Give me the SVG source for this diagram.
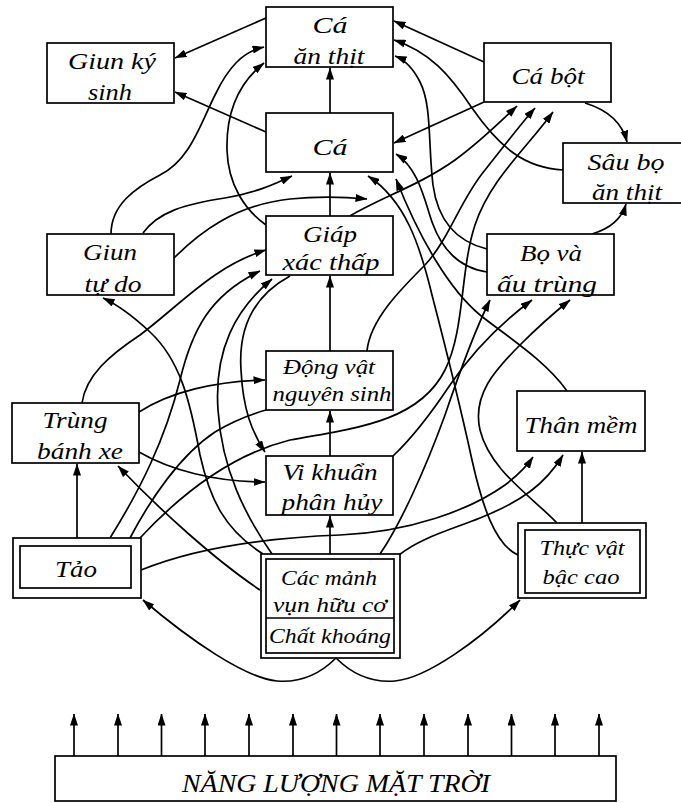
<svg xmlns="http://www.w3.org/2000/svg" width="681" height="803" viewBox="0 0 681 803">
  <defs>
    <marker id="ah" viewBox="0 0 12 8" refX="11.5" refY="4" markerWidth="12" markerHeight="8" markerUnits="userSpaceOnUse" orient="auto">
      <path d="M0,0 L12,4 L0,8 z" fill="#000"/>
    </marker>
    <style>
      .box { fill: #fff; stroke: #000; stroke-width: 1.7; }
      .ln { fill: none; stroke: #000; stroke-width: 1.7; }
      .ar { fill: none; stroke: #000; stroke-width: 1.7; marker-end: url(#ah); }
      text { font-family: "Liberation Serif", "Times New Roman", serif; font-style: italic; font-size: 24px; fill: #000; text-anchor: middle; }
      .sm { font-size: 22px; }
      .big { font-size: 26px; }
    </style>
  </defs>

  <rect width="681" height="803" fill="#fff"/>

  <!-- food web links -->
  <g id="connectors">
    <!-- straight vertical links -->
    <path class="ar" d="M330,113 V68"/>
    <path class="ar" d="M330,216 V173"/>
    <path class="ar" d="M330,351 V276"/>
    <path class="ar" d="M330,456 V411"/>
    <path class="ar" d="M330,554 V516"/>
    <path class="ar" d="M77,538 V464"/>
    <path class="ar" d="M582,523 V452"/>

    <!-- straight diagonal links -->
    <path class="ar" d="M266,18 L175,58"/>
    <path class="ar" d="M266,132 L175,92"/>
    <path class="ar" d="M484,62 L394,21"/>
    <path class="ar" d="M484,102 L394,143"/>

    <!-- fry, predatory insects, beetles and larvae -->
    <path class="ar" d="M585,103 C608,110 622,122 627,142"/>
    <path class="ar" d="M563,170 C525,168 500,148 472,108 C450,75 430,52 394,40"/>
    <path class="ar" d="M592,234 C612,228 622,218 626,204"/>
    <path class="ar" d="M487,249 C458,242 438,222 433,185 C428,145 432,105 420,82 C413,68 405,60 395,56"/>
    <path class="ar" d="M487,272 C460,268 442,250 432,222 C424,198 418,168 396,154"/>

    <!-- free-living worms -->
    <path class="ar" d="M111,234 C111,205 135,188 160,175 C190,160 200,125 215,95 C228,68 242,52 264,47"/>
    <path class="ar" d="M143,233 C158,212 185,204 225,198 C255,193 275,184 292,176"/>
    <path class="ar" d="M174,258 C200,232 235,205 290,199 C320,196 345,197 367,199"/>

    <!-- lower crustaceans -->
    <path class="ar" d="M266,225 C245,210 228,185 227,150 C226,110 240,82 264,63"/>
    <path class="ar" d="M350,216 C380,198 420,185 455,160 C480,142 500,122 517,106"/>
    <path class="ar" d="M290,276 C255,295 238,325 241,370 C243,410 252,432 265,452"/>

    <!-- protozoa -->
    <path class="ar" d="M367,351 C370,320 400,290 425,265 C450,238 460,200 485,170 C505,145 520,125 535,108"/>

    <!-- algae -->
    <path class="ar" d="M140,538 C180,495 230,455 290,440 C360,428 420,420 445,370 C465,330 460,270 475,225 C490,180 525,150 553,112"/>
    <path class="ln" d="M130,538 C150,500 180,455 215,432 C235,420 252,414 266,410"/>
    <path class="ar" d="M110,538 C140,490 165,440 180,380 C192,330 210,295 260,271"/>
    <path class="ar" d="M141,570 C190,550 260,538 340,535 C410,532 470,510 505,485 C518,475 527,466 533,457"/>

    <!-- rotifers -->
    <path class="ar" d="M82,403 C86,375 110,355 140,335 C180,305 215,265 266,250"/>
    <path class="ar" d="M139,412 C170,392 215,381 265,380"/>
    <path class="ar" d="M139,452 C170,470 215,482 265,482"/>

    <!-- organic detritus -->
    <path class="ar" d="M272,554 C245,515 222,470 218,410 C214,350 235,310 272,279"/>
    <path class="ar" d="M263,554 C225,530 210,500 200,455 C190,400 180,360 150,332 C135,318 118,305 103,298"/>
    <path class="ar" d="M260,590 C215,560 160,510 118,466"/>
    <path class="ar" d="M399,555 C420,538 450,530 480,518 C520,502 545,485 563,455"/>
    <path class="ar" d="M380,554 C400,525 425,470 445,415 C462,365 475,330 490,300"/>

    <!-- decomposer bacteria -->
    <path class="ar" d="M393,456 C410,440 430,415 450,385 C475,348 505,320 532,300"/>

    <!-- higher plants and molluscs -->
    <path class="ar" d="M557,523 C530,495 490,470 480,430 C472,395 495,370 520,345 C540,325 555,312 570,300"/>
    <path class="ar" d="M518,555 C495,545 482,505 472,460 C460,405 445,345 432,295 C420,245 405,200 368,176"/>
    <path class="ar" d="M567,391 C545,360 505,335 480,315 C450,290 420,240 396,179"/>

    <!-- minerals to producers -->
    <path class="ar" d="M336,658 C322,672 302,683 277,681 C245,678 190,640 143,600"/>
    <path class="ar" d="M336,658 C350,672 370,683 395,681 C427,678 480,640 520,600"/>

    <!-- solar energy rays -->
    <path class="ar" d="M74,756 V714"/>
    <path class="ar" d="M118,756 V714"/>
    <path class="ar" d="M161.5,756 V714"/>
    <path class="ar" d="M205,756 V714"/>
    <path class="ar" d="M249,756 V714"/>
    <path class="ar" d="M293,756 V714"/>
    <path class="ar" d="M336.5,756 V714"/>
    <path class="ar" d="M380,756 V714"/>
    <path class="ar" d="M424,756 V714"/>
    <path class="ar" d="M468,756 V714"/>
    <path class="ar" d="M511.5,756 V714"/>
    <path class="ar" d="M555,756 V714"/>
    <path class="ar" d="M599,756 V714"/>
  </g>

  <g id="ca-an-thit">
    <rect class="box" x="266" y="7" width="127" height="60"/>
    <text x="330" y="33" textLength="35" lengthAdjust="spacingAndGlyphs">Cá</text>
    <text x="329" y="64" textLength="71" lengthAdjust="spacingAndGlyphs">ăn thịt</text>
  </g>

  <g id="giun-ky-sinh">
    <rect class="box" x="47" y="43" width="127" height="60"/>
    <text x="112" y="69" textLength="88" lengthAdjust="spacingAndGlyphs">Giun ký</text>
    <text x="110" y="100" textLength="44" lengthAdjust="spacingAndGlyphs">sinh</text>
  </g>

  <g id="ca-bot">
    <rect class="box" x="484" y="43" width="127" height="59"/>
    <text x="548" y="84" textLength="73" lengthAdjust="spacingAndGlyphs">Cá bột</text>
  </g>

  <g id="ca">
    <rect class="box" x="266" y="113" width="127" height="59"/>
    <text x="330" y="155" textLength="35" lengthAdjust="spacingAndGlyphs">Cá</text>
  </g>

  <g id="sau-bo-an-thit">
    <rect class="box" x="563" y="143" width="127" height="60"/>
    <text x="626" y="170" textLength="77" lengthAdjust="spacingAndGlyphs">Sâu bọ</text>
    <text x="627" y="200" textLength="70" lengthAdjust="spacingAndGlyphs">ăn thịt</text>
  </g>

  <g id="giun-tu-do">
    <rect class="box" x="47" y="234" width="127" height="61"/>
    <text x="110" y="260" textLength="54" lengthAdjust="spacingAndGlyphs">Giun</text>
    <text x="113" y="292" textLength="57" lengthAdjust="spacingAndGlyphs">tự do</text>
  </g>

  <g id="giap-xac-thap">
    <rect class="box" x="266" y="216" width="127" height="59"/>
    <text x="330" y="242" textLength="54" lengthAdjust="spacingAndGlyphs">Giáp</text>
    <text x="331" y="270" textLength="97" lengthAdjust="spacingAndGlyphs">xác thấp</text>
  </g>

  <g id="bo-va-au-trung">
    <rect class="box" x="487" y="234" width="127" height="61"/>
    <text x="551" y="261" textLength="62" lengthAdjust="spacingAndGlyphs">Bọ và</text>
    <text x="547" y="292" textLength="100" lengthAdjust="spacingAndGlyphs">ấu trùng</text>
  </g>

  <g id="dong-vat-nguyen-sinh">
    <rect class="box" x="266" y="351" width="127" height="59"/>
    <text class="sm" x="329" y="374" textLength="92" lengthAdjust="spacingAndGlyphs">Động vật</text>
    <text class="sm" x="332" y="401" textLength="119" lengthAdjust="spacingAndGlyphs">nguyên sinh</text>
  </g>

  <g id="trung-banh-xe">
    <rect class="box" x="12" y="403" width="127" height="60"/>
    <text x="75" y="428" textLength="65" lengthAdjust="spacingAndGlyphs">Trùng</text>
    <text x="80" y="459" textLength="86" lengthAdjust="spacingAndGlyphs">bánh xe</text>
  </g>

  <g id="than-mem">
    <rect class="box" x="517" y="391" width="128" height="60"/>
    <text x="581" y="433" textLength="113" lengthAdjust="spacingAndGlyphs">Thân mềm</text>
  </g>

  <g id="vi-khuan-phan-huy">
    <rect class="box" x="266" y="456" width="127" height="59"/>
    <text x="330" y="480" textLength="95" lengthAdjust="spacingAndGlyphs">Vi khuẩn</text>
    <text x="332" y="510" textLength="101" lengthAdjust="spacingAndGlyphs">phân hủy</text>
  </g>

  <g id="tao">
    <rect class="box" x="13" y="538" width="128" height="60"/>
    <rect class="box" x="20" y="546" width="111" height="42"/>
    <text x="76" y="577" textLength="42" lengthAdjust="spacingAndGlyphs">Tảo</text>
  </g>

  <g id="cac-manh-vun-huu-co">
    <rect class="box" x="261" y="554" width="139" height="104"/>
    <rect class="box" x="266" y="559" width="128" height="94"/>
    <line x1="266" y1="618" x2="394" y2="618" stroke="#000" stroke-width="1.7"/>
    <text class="sm" x="329" y="585" textLength="96" lengthAdjust="spacingAndGlyphs">Các mảnh</text>
    <text class="sm" x="330" y="612" textLength="114" lengthAdjust="spacingAndGlyphs">vụn hữu cơ</text>
    <text class="sm" x="330" y="643" textLength="122" lengthAdjust="spacingAndGlyphs">Chất khoáng</text>
  </g>

  <g id="thuc-vat-bac-cao">
    <rect class="box" x="518" y="523" width="128" height="75"/>
    <rect class="box" x="525" y="530" width="115" height="63"/>
    <text class="sm" x="582" y="555" textLength="85" lengthAdjust="spacingAndGlyphs">Thực vật</text>
    <text class="sm" x="581" y="584" textLength="77" lengthAdjust="spacingAndGlyphs">bậc cao</text>
  </g>

  <g id="nang-luong-mat-troi">
    <rect class="box" x="55" y="756" width="561" height="45"/>
    <text class="big" x="336" y="792" textLength="308" lengthAdjust="spacingAndGlyphs">NĂNG LƯỢNG MẶT TRỜI</text>
  </g>
</svg>
